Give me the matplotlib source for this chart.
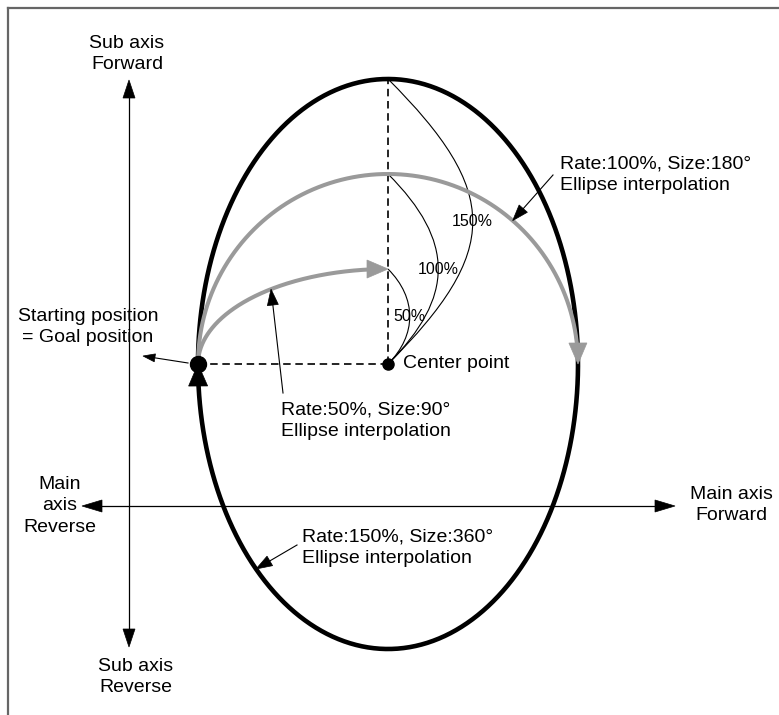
import numpy as np
import matplotlib
matplotlib.use("Agg")
import matplotlib.pyplot as plt
from matplotlib.path import Path
from matplotlib.patches import PathPatch, Polygon

plt.rcParams["font.family"] = ["Liberation Sans", "DejaVu Sans"]

# interpolation cases
rates = [50, 100, 150]          # sub axis radius in % of main radius
sizes = [90, 180, 360]          # arc size in degrees
rate_labels = ["50%", "100%", "150%"]
case_labels = [
    "Rate:50%, Size:90°\nEllipse interpolation",
    "Rate:100%, Size:180°\nEllipse interpolation",
    "Rate:150%, Size:360°\nEllipse interpolation",
]
pointer_deg = [52, 131, 314]    # where each label arrow hits its arc
bulge = [29, 67, 113]           # how far the thin rate curves bow out

# layout (pixels, y down)
cx, cy = 388, 364
radius = 190
label_pos = [(281, 421), (560, 175), (302, 548)]
label_from = [(283, 393), (553, 175), (297, 545)]

GRAY = "#9a9a9a"
LS = 1.38

fig = plt.figure(figsize=(7.79, 7.15), dpi=100)
ax = fig.add_axes([0, 0, 1, 1])
ax.set_xlim(0, 779)
ax.set_ylim(715, 0)
ax.axis("off")


def arc(rate, size, n=400):
    t = np.radians(np.linspace(0, size, n))
    return cx - radius * np.cos(t), cy - rate / 100 * radius * np.sin(t)


def head(tip, d, length, width, color="k", z=5):
    d = np.asarray(d, float)
    d = d / np.hypot(*d)
    nrm = np.array([-d[1], d[0]])
    tip = np.asarray(tip, float)
    base = tip - length * d
    pts = [tip, base + nrm * width / 2, base - nrm * width / 2]
    ax.add_patch(Polygon(pts, closed=True, fc=color, ec=color, lw=0.5, zorder=z))


def trim(x, y, cut):
    seg = np.hypot(np.diff(x), np.diff(y))
    rest = np.concatenate([np.cumsum(seg[::-1])[::-1], [0]])
    keep = rest >= cut
    return x[keep], y[keep]


def arrow(p0, p1, length, width, lw=0.8):
    d = np.subtract(p1, p0)
    u = d / np.hypot(*d)
    end = np.asarray(p1) - u * length * 0.8
    ax.plot([p0[0], end[0]], [p0[1], end[1]], color="k", lw=lw, zorder=4)
    head(p1, u, length, width)


# frame (top and left only)
ax.plot([8, 779], [8, 8], color="#666666", lw=1.6, clip_on=False)
ax.plot([8, 8], [8, 715], color="#666666", lw=1.6, clip_on=False)

# sub / main axis arrows
ax.plot([129, 129], [95, 632], color="k", lw=0.9)
head((129, 80), (0, -1), 18, 12)
head((129, 647), (0, 1), 18, 12)
ax.plot([98, 660], [506, 506], color="k", lw=0.9)
head((82, 506), (-1, 0), 20, 12)
head((675, 506), (1, 0), 20, 12)

# arcs for each case
for rate, size in zip(rates, sizes):
    x, y = arc(rate, size)
    color = "k" if size == 360 else GRAY
    lw = 3.3 if size == 360 else 2.9
    L, W = (22, 19) if size == 360 else (21, 18)
    xt, yt = trim(x, y, L * 0.7)
    ax.plot(xt, yt, color=color, lw=lw, solid_capstyle="butt", zorder=2 if size == 360 else 3)
    head((x[-1], y[-1]), (x[-1] - x[-2], y[-1] - y[-2]), L, W, color=color, z=4)

# dashed radius lines
top = cy - max(rates) / 100 * radius
ax.plot([cx - radius, cx], [cy, cy], color="k", lw=1.2, dashes=(4.5, 2.8), zorder=1)
ax.plot([cx, cx], [cy, top], color="k", lw=1.2, dashes=(4.5, 2.8), zorder=1)

# thin rate curves from sub axis top back to the centre
for rate, a, lab in zip(rates, bulge, rate_labels):
    yt = cy - rate / 100 * radius
    verts = [(cx, yt), (cx + a, yt + a), (cx + a, cy - a), (cx, cy)]
    path = Path(verts, [Path.MOVETO, Path.CURVE4, Path.CURVE4, Path.CURVE4])
    ax.add_patch(PathPatch(path, fc="none", ec="k", lw=0.8, zorder=1))
    ax.text(cx + 0.75 * a, (yt + cy) / 2, lab, fontsize=11.5, ha="center", va="center", zorder=6)

# points
ax.plot(cx, cy, "o", color="k", ms=8, zorder=6)
ax.plot(cx - radius, cy, "o", color="k", ms=11.5, zorder=6)

# case labels with pointers
for rate, size, deg, lab, pos, src in zip(rates, sizes, pointer_deg, case_labels, label_pos, label_from):
    t = np.radians(deg)
    tip = (cx - radius * np.cos(t), cy - rate / 100 * radius * np.sin(t))
    arrow(src, tip, 16, 11)
    ax.text(pos[0], pos[1], lab, fontsize=14, ha="left", va="center", linespacing=LS)

# other labels
arrow((188, 363), (143, 356), 12, 8)
ax.text(88, 327, "Starting position\n= Goal position", fontsize=14, ha="center", va="center",
        multialignment="center", linespacing=LS)
ax.text(403, 363, "Center point", fontsize=14, ha="left", va="center")
ax.text(127, 54, "Sub axis\nForward", fontsize=14, ha="center", va="center",
        multialignment="center", linespacing=LS)
ax.text(136, 677, "Sub axis\nReverse", fontsize=14, ha="center", va="center",
        multialignment="center", linespacing=LS)
ax.text(731, 505, "Main axis\nForward", fontsize=14, ha="center", va="center",
        multialignment="center", linespacing=LS)
ax.text(60, 506, "Main\naxis\nReverse", fontsize=14, ha="center", va="center",
        multialignment="center", linespacing=LS)

fig.savefig("out.png", dpi=100)
